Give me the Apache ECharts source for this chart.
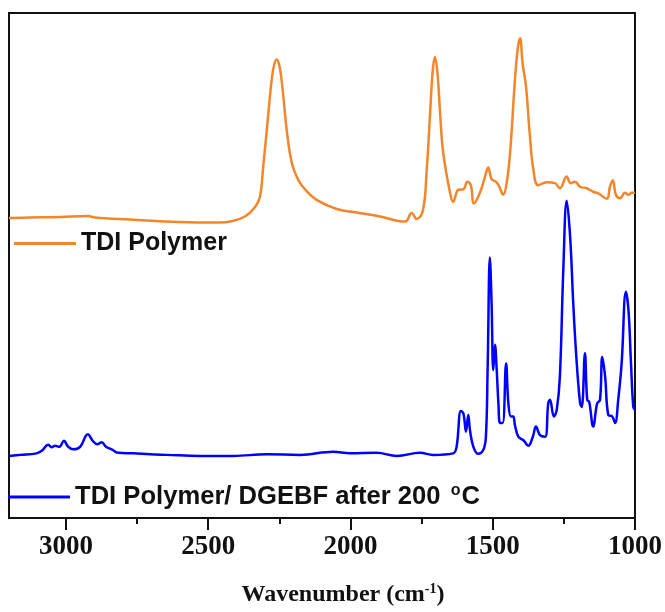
<!DOCTYPE html>
<html>
<head>
<meta charset="utf-8">
<script src="https://cdn.jsdelivr.net/npm/echarts@6/dist/echarts.min.js"></script>
<style>
  html, body { margin: 0; padding: 0; background: #ffffff; }
  #chart { width: 665px; height: 612px; }
</style>
</head>
<body>
<div id="chart"></div>
<script>
// FTIR spectra: wavenumber (cm-1) and absorbance (arbitrary, offset units)
const tdiWavenumber = [3200, 3126, 3021, 2922, 2898, 2775, 2599, 2458, 2423, 2371, 2335, 2318, 2306, 2294, 2277, 2268, 2259,
  2250, 2242, 2233, 2224, 2206, 2183, 2160, 2119, 2048, 1978, 1896, 1808, 1785, 1767, 1745, 1732, 1720, 1711, 1703, 1694, 1685, 1674,
  1650, 1639, 1621, 1603, 1589, 1577, 1566, 1545, 1527, 1516, 1504, 1489, 1477, 1463, 1451, 1439, 1422, 1412, 1404,
  1395, 1383, 1371, 1357, 1340, 1310, 1281, 1264, 1240, 1226, 1211, 1193, 1170, 1147, 1129, 1099, 1088, 1078,
  1067, 1053, 1035, 1023, 1012, 1000];
const tdiAbsorbance = [0.594, 0.595, 0.596, 0.598, 0.595, 0.591, 0.586, 0.585, 0.587, 0.597, 0.616, 0.636, 0.700, 0.768, 0.867, 0.898, 0.908,
  0.896, 0.867, 0.818, 0.768, 0.703, 0.669, 0.651, 0.630, 0.612, 0.605, 0.597, 0.587, 0.604, 0.592, 0.610, 0.689, 0.802, 0.885, 0.913, 0.880, 0.802, 0.723,
  0.644, 0.626, 0.650, 0.651, 0.666, 0.659, 0.623, 0.644, 0.676, 0.694, 0.671, 0.666, 0.656, 0.640, 0.663, 0.723, 0.867, 0.930, 0.950,
  0.900, 0.854, 0.768, 0.689, 0.659, 0.665, 0.663, 0.653, 0.676, 0.663, 0.666, 0.656, 0.653, 0.646, 0.643, 0.632, 0.656, 0.669,
  0.640, 0.633, 0.644, 0.640, 0.644, 0.644];

const curedWavenumber = [3200, 3161, 3103, 3085, 3062, 3050, 3038, 3023, 3007, 2992, 2974, 2950, 2923, 2906, 2890, 2874,
  2859, 2839, 2816, 2763, 2704, 2646, 2529, 2413, 2294, 2177, 2060, 2002, 1908, 1837, 1756, 1709, 1639, 1627, 1612,
  1603, 1594, 1586, 1580, 1568, 1551, 1533, 1524, 1518, 1510, 1504, 1498, 1492, 1486, 1480, 1474, 1465, 1453, 1445,
  1436, 1428, 1422, 1410, 1392, 1375, 1359, 1348, 1334, 1316, 1305, 1299, 1285, 1275, 1264, 1252, 1240, 1228, 1217,
  1207, 1193, 1187, 1176, 1168, 1161, 1147, 1133, 1123, 1115, 1105, 1094, 1080, 1070, 1059, 1047, 1032, 1023, 1014,
  1006, 1000];
const curedAbsorbance = [0.123, 0.125, 0.128, 0.133, 0.145, 0.140, 0.143, 0.141, 0.153, 0.141, 0.136, 0.141, 0.166, 0.153, 0.146, 0.150,
  0.141, 0.136, 0.129, 0.128, 0.126, 0.125, 0.123, 0.123, 0.126, 0.125, 0.131, 0.128, 0.129, 0.123, 0.129, 0.125, 0.128, 0.141, 0.212,
  0.207, 0.171, 0.204, 0.174, 0.141, 0.127, 0.135, 0.161, 0.293, 0.516, 0.425, 0.293, 0.343, 0.293, 0.227, 0.188, 0.188, 0.306, 0.227,
  0.201, 0.201, 0.184, 0.161, 0.154, 0.143, 0.161, 0.181, 0.164, 0.161, 0.227, 0.234, 0.201, 0.214, 0.280, 0.491, 0.628, 0.557, 0.425,
  0.326, 0.227, 0.220, 0.326, 0.234, 0.230, 0.181, 0.227, 0.234, 0.319, 0.280, 0.204, 0.201, 0.188, 0.234, 0.306, 0.448, 0.412, 0.306,
  0.220, 0.214];

const seriesNames = ['TDI Polymer', 'TDI Polymer/ DGEBF after 200 °C'];
const majorTicks = [3000, 2500, 2000, 1500, 1000];
const minorTicks = [2750, 2250, 1750, 1250];

const pairs = (xs, ys) => xs.map((x, i) => [x, ys[i]]);

const chart = echarts.init(document.getElementById('chart'), null, { renderer: 'canvas' });

const legendText = (size) => ({
  fontFamily: '"Liberation Sans", Arial, sans-serif',
  fontWeight: 'bold',
  fontSize: size,
  color: '#111111',
  rich: {
    sup: { fontFamily: '"Liberation Sans", Arial, sans-serif', fontWeight: 'bold', fontSize: 16, color: '#111111', verticalAlign: 'top', padding: [0, 1, 12, 3] }
  }
});

const axisBase = {
  type: 'value',
  min: 1000,
  max: 3200,
  inverse: true,
  position: 'bottom',
  splitLine: { show: false },
  axisLine: { show: true, onZero: false, lineStyle: { color: '#111111', width: 2 } }
};

chart.setOption({
  animation: false,
  backgroundColor: '#ffffff',
  grid: {
    left: 9, right: 29, top: 13, bottom: 94,
    show: true, borderColor: '#111111', borderWidth: 2, backgroundColor: 'transparent'
  },
  legend: [
    {
      data: [seriesNames[0]],
      left: 14, top: 231,
      itemWidth: 62, itemHeight: 3,
      icon: 'rect',
      textStyle: legendText(25),
      padding: 0
    },
    {
      data: [seriesNames[1]],
      left: 8, top: 483,
      itemWidth: 62, itemHeight: 3,
      icon: 'rect',
      textStyle: legendText(25.6),
      padding: 0,
      formatter: () => 'TDI Polymer/ DGEBF after 200 {sup|o}C'
    }
  ],
  xAxis: [
    Object.assign({}, axisBase, {
      name: 'Wavenumber (cm{sup|-1})',
      nameLocation: 'middle',
      nameGap: 64,
      nameTextStyle: {
        fontFamily: '"Liberation Serif", "Times New Roman", serif',
        fontWeight: 'bold',
        fontSize: 24,
        color: '#111111',
        padding: [0, 0, 0, 42],
        rich: {
          sup: { fontFamily: '"Liberation Serif", serif', fontWeight: 'bold', fontSize: 14, color: '#111111', verticalAlign: 'top', padding: [0, 0, 11, 0] }
        }
      },
      axisTick: { show: true, inside: false, length: 12, customValues: majorTicks, lineStyle: { color: '#111111', width: 2 } },
      axisLabel: {
        show: true,
        customValues: majorTicks,
        margin: 16,
        formatter: (v) => String(v),
        fontFamily: '"Liberation Serif", "Times New Roman", serif',
        fontWeight: 'bold',
        fontSize: 27,
        color: '#111111'
      }
    }),
    Object.assign({}, axisBase, {
      axisLine: { show: false, onZero: false },
      axisTick: { show: true, inside: false, length: 6, customValues: minorTicks, lineStyle: { color: '#111111', width: 2 } },
      axisLabel: { show: false }
    })
  ],
  yAxis: {
    type: 'value',
    min: 0,
    max: 1,
    axisLine: { show: true, lineStyle: { color: '#111111', width: 2 } },
    axisTick: { show: false },
    axisLabel: { show: false },
    splitLine: { show: false }
  },
  series: [
    {
      name: seriesNames[0],
      type: 'line',
      xAxisIndex: 0,
      data: pairs(tdiWavenumber, tdiAbsorbance),
      showSymbol: false,
      smooth: 0.4,
      lineStyle: { color: '#F5852A', width: 2.5 },
      itemStyle: { color: '#F5852A' }
    },
    {
      name: seriesNames[1],
      type: 'line',
      xAxisIndex: 1,
      data: pairs(curedWavenumber, curedAbsorbance),
      showSymbol: false,
      smooth: 0.4,
      lineStyle: { color: '#0000FF', width: 2.5 },
      itemStyle: { color: '#0000FF' }
    }
  ]
});
</script>
</body>
</html>
